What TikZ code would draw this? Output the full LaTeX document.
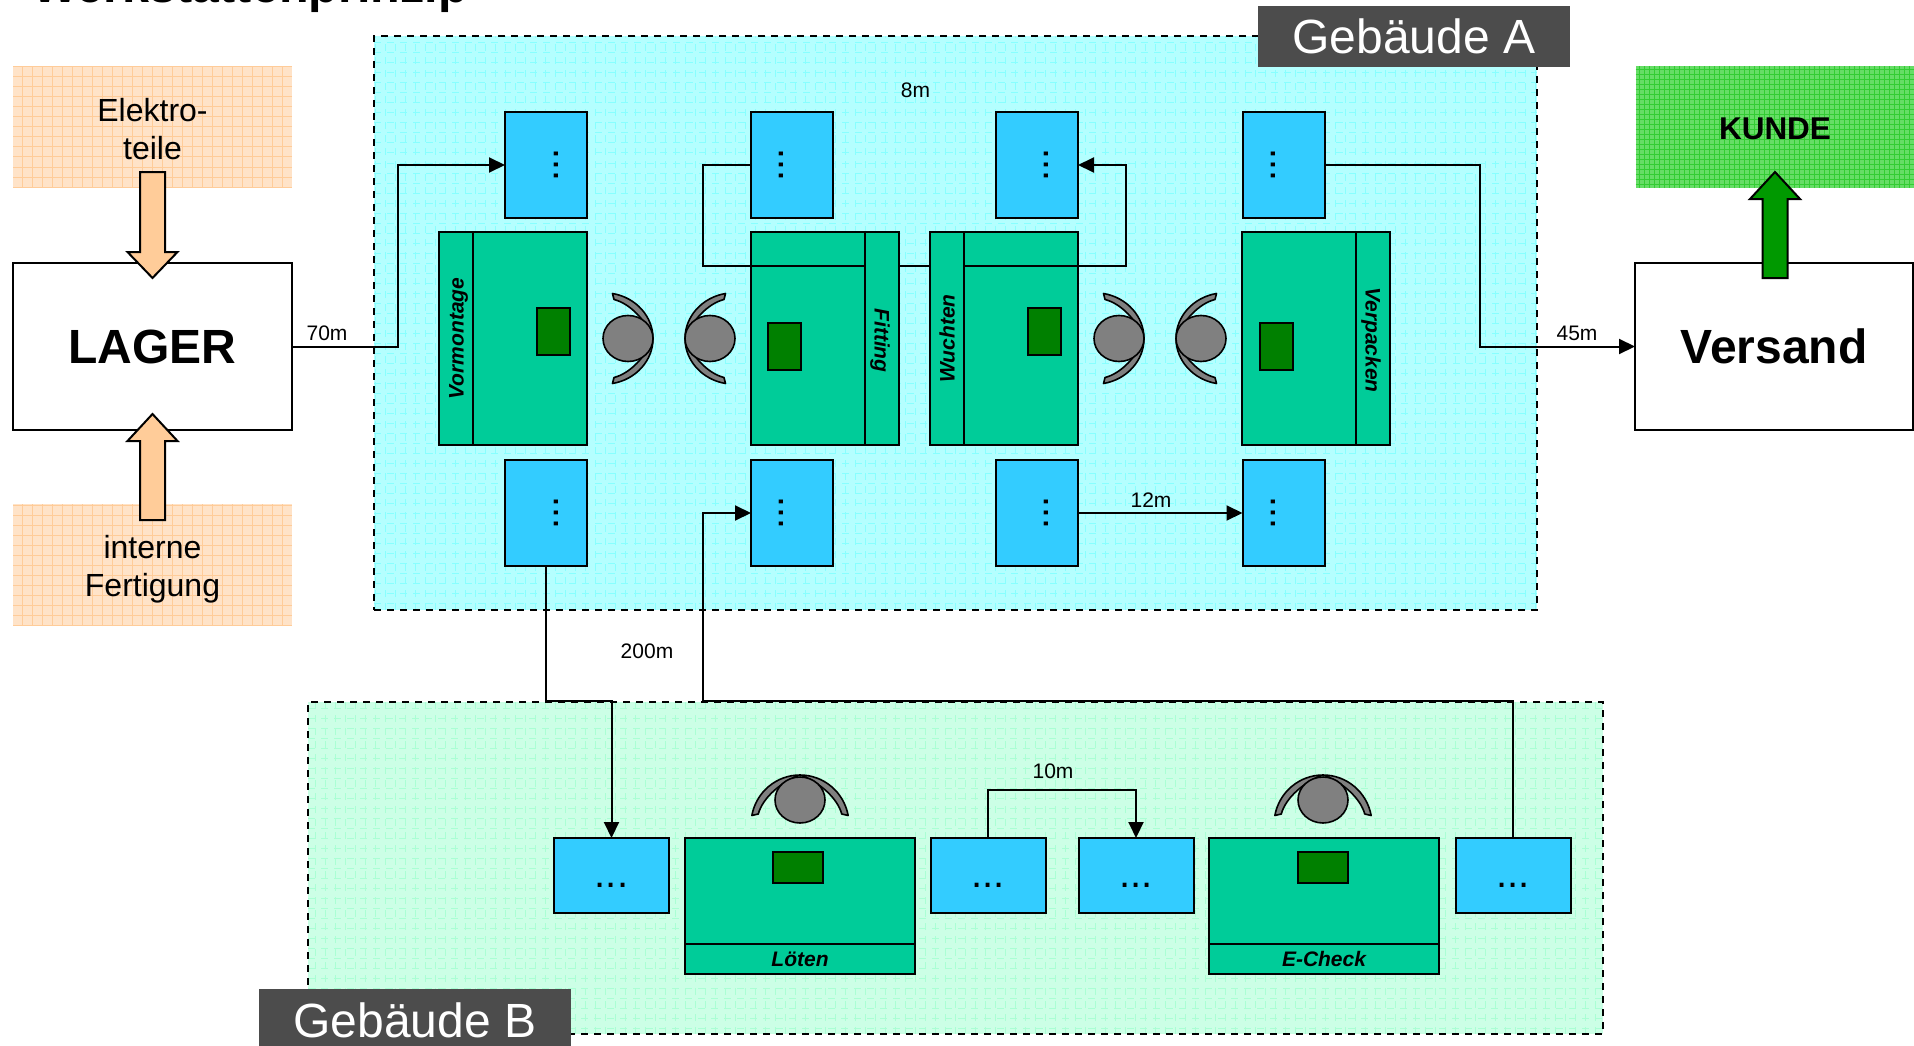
\documentclass[tikz,border=0pt]{standalone}
\usepackage{fontspec}
\setmainfont{Liberation Sans}
\usetikzlibrary{arrows.meta}

\definecolor{areaCyan}{HTML}{B4FFFF}
\definecolor{areaCyanLine}{HTML}{88FFFF}
\definecolor{areaMint}{HTML}{CCFFE6}
\definecolor{areaMintLine}{HTML}{AAFFD4}
\definecolor{stockFill}{HTML}{FFE3C8}
\definecolor{stockLine}{HTML}{FFCC99}
\definecolor{kundeFill}{HTML}{66DD66}
\definecolor{kundeLine}{HTML}{33CC33}
\definecolor{tableGreen}{HTML}{00CC99}
\definecolor{bufferBlue}{HTML}{33CCFF}

% One operator: arms turned by #3 and spread by #4, head upright
\newcommand{\operator}[4]{
    \begin{scope}[shift={(#1,#2)}, rotate=#3, yscale=#4]
        \draw[arms] (-15.5,-45) .. controls (8,-41) and (25,-22) .. (25,0)
            .. controls (25,22) and (8,41) .. (-15.5,45) -- (-14,39)
            .. controls (2,35) and (18,18) .. (25,0)
            .. controls (18,-18) and (2,-35) .. (-14,-39) -- cycle;
    \end{scope}
    \draw[head] (#1,#2) ellipse (25 and 23);
}

\begin{document}
\begin{tikzpicture}[
        x=1pt, y=-1pt, % Coordinates are reference pixels, y-axis reversed
        every node/.style={inner sep=0pt, outer sep=0pt},
        gridfill/.style n args={3}{fill=#1, path picture={
            \draw[#2, line width=1pt, step=#3]
                (path picture bounding box.south west) grid (path picture bounding box.north east);}},
        area/.style={draw, line width=2pt, dash pattern=on 7pt off 6pt},
        stock/.style={gridfill={stockFill}{stockLine}{10pt}},
        stocktext/.style={align=center, font=\fontsize{32}{38.5}\selectfont},
        hall/.style={draw, line width=2pt, fill=white, font=\bfseries\fontsize{48}{48}\selectfont},
        tag/.style={fill=black!70, text=white, font=\fontsize{48}{48}\selectfont},
        blockarrow/.style={draw, line width=2pt, line join=miter},
        desk/.style={draw, line width=2pt, fill=tableGreen},
        stripe/.style={desk, font=\bfseries\itshape\fontsize{21}{21}\selectfont},
        sidestripe/.style={stripe, text height=20pt, text depth=5pt, minimum width=213, minimum height=34},
        tool/.style={draw, line width=2pt, fill=green!50!black},
        buffer/.style={draw, line width=2pt, fill=bufferBlue},
        link/.style={line width=2pt, line join=miter},
        linkarrow/.style={link, -{Triangle[length=16pt, width=15pt]}},
        dist/.style={font=\fontsize{21}{21}\selectfont},
        arms/.style={draw, line width=1.6pt, fill=gray, line join=round},
        head/.style={draw, line width=1.6pt, fill=gray}
    ]
        \useasboundingbox (0,0) rectangle (1914,1046);

        % Title, cut by the top edge
        \node[anchor=base west, font=\bfseries\fontsize{48.5}{48.5}\selectfont] (title) at (32,3) {Werkstättenprinzip};

        % Buildings
        \node[area, gridfill={areaCyan}{areaCyanLine}{10pt}, minimum width=1163, minimum height=574] (gebA) at (955.5,323) {};
        \node[area, gridfill={areaMint}{areaMintLine}{10pt}, minimum width=1295, minimum height=332] (gebB) at (955.5,868) {};
        \node[tag, minimum width=312, minimum height=61] (tagA) at (1414,36.5) {Gebäude A};
        \node[tag, minimum width=312, minimum height=62] (tagB) at (415,1020) {Gebäude B};

        % Sources and customer
        \node[stock, minimum width=279, minimum height=122] (elektro) at (152.5,127) {};
        \node[stocktext] (elektroText) at (152.5,129) {Elektro-\\teile};
        \node[stock, minimum width=279, minimum height=122] (intern) at (152.5,565) {};
        \node[stocktext] (internText) at (152.5,569) {interne\\Fertigung};
        \node[gridfill={kundeFill}{kundeLine}{5pt}, minimum width=279, minimum height=122, text height=25pt, text depth=0pt,
            font=\bfseries\fontsize{31.5}{31.5}\selectfont] (kunde) at (1775,127) {KUNDE};
        \node[hall, minimum width=279, minimum height=167] (lager) at (152.5,346.5) {LAGER};
        \node[hall, minimum width=278, minimum height=167] (versand) at (1774,346.5) {Versand};

        % Block arrows
        \draw[blockarrow, fill=stockLine] (140,172) -- (165,172) -- (165,252) -- (177.5,252)
            -- (152.5,278) -- (127.5,252) -- (140,252) -- cycle;
        \draw[blockarrow, fill=stockLine] (140,520) -- (165,520) -- (165,441) -- (177.5,441)
            -- (152.5,414) -- (127.5,441) -- (140,441) -- cycle;
        \draw[blockarrow, fill=green!60!black] (1762.5,278) -- (1787.5,278) -- (1787.5,199) -- (1800,199)
            -- (1775,172) -- (1750,199) -- (1762.5,199) -- cycle;

        % Desks in building A
        \node[desk, minimum width=148, minimum height=213] (deskV) at (513,338.5) {};
        \node[desk, minimum width=148, minimum height=213] (deskF) at (825,338.5) {};
        \node[desk, minimum width=148, minimum height=213] (deskW) at (1004,338.5) {};
        \node[desk, minimum width=148, minimum height=213] (deskP) at (1316,338.5) {};

        % Buffers in building A
        \foreach \bname/\bx/\dotx in {topV/546/556, topF/792/781, topW/1037/1046, topP/1283.5/1273} {
            \node[buffer, minimum width=82, minimum height=106] (\bname) at (\bx,165) {};
            \node[rotate=90, font=\fontsize{40}{40}\selectfont] (\bname dots) at (\dotx,165) {...};
        }
        \foreach \bname/\bx/\dotx in {lowV/546/556, lowF/792/781, lowW/1037/1046, lowP/1283.5/1273} {
            \node[buffer, minimum width=82, minimum height=106] (\bname) at (\bx,513) {};
            \node[rotate=90, font=\fontsize{40}{40}\selectfont] (\bname dots) at (\dotx,513) {...};
        }

        % Connector that passes behind the stripes
        \coordinate (turnF) at (703,266);
        \coordinate (turnW) at (1125.5,266);
        \draw[linkarrow] (topF.west) -| (turnF) -- (turnW) |- (topW.east);

        % Stripes and tools
        \node[sidestripe, rotate=90] (stripV) at (456,338.5) {Vormontage};
        \node[sidestripe, rotate=270] (stripF) at (882,338.5) {\hspace*{4pt}Fitting};
        \node[sidestripe, rotate=90] (stripW) at (947,338.5) {Wuchten};
        \node[sidestripe, rotate=270] (stripP) at (1373,338.5) {\hspace*{3pt}Verpacken};
        \node[tool, minimum width=33, minimum height=47] (toolV) at (553,331.5) {};
        \node[tool, minimum width=33, minimum height=47] (toolF) at (784.5,346) {};
        \node[tool, minimum width=33, minimum height=47] (toolW) at (1044.5,331.5) {};
        \node[tool, minimum width=33, minimum height=47] (toolP) at (1276.5,346) {};

        % Operators in building A
        \operator{628}{338.5}{0}{1}
        \operator{710}{338.5}{180}{1}
        \operator{1119}{338.5}{0}{1}
        \operator{1201}{338.5}{180}{1}

        % Desks in building B
        \node[desk, minimum width=230, minimum height=136] (deskL) at (800,906) {};
        \node[desk, minimum width=230, minimum height=136] (deskE) at (1324,906) {};
        \node[stripe, minimum width=230, minimum height=30] (stripL) at (800,959) {Löten};
        \node[stripe, minimum width=230, minimum height=30] (stripE) at (1324,959) {E-Check};
        \node[tool, minimum width=50, minimum height=31] (toolL) at (798,867.5) {};
        \node[tool, minimum width=50, minimum height=31] (toolE) at (1323,867.5) {};
        \operator{800}{800}{90}{1.07}
        \operator{1323}{800}{90}{1.07}

        % Buffers in building B
        \foreach \bname/\bx in {bufA/611.5, bufB/988, bufC/1136, bufD/1513} {
            \node[buffer, minimum width=115, minimum height=75] (\bname) at (\bx,875.5) {};
            \node[font=\fontsize{40}{40}\selectfont] (\bname dots) at (\bx,885) {...};
        }

        % Connectors
        \coordinate (turnLager) at (398,165);
        \coordinate (turnVersand) at (1480,346.5);
        \coordinate (turnOut) at (611.5,701);
        \coordinate (turnIn) at (703,701);
        \coordinate (turnTen) at (1053,790);
        \draw[linkarrow] (lager.east) -| (turnLager) -- (topV.west);
        \draw[linkarrow] (topP.east) -| (turnVersand) -- (versand.west);
        \draw[linkarrow] (lowV.south) |- (turnOut) -- (bufA.north);
        \draw[linkarrow] (bufD.north) |- (turnIn) |- (lowF.west);
        \draw[linkarrow] (lowW.east) -- (lowP.west);
        \draw[linkarrow] (bufB.north) |- (turnTen) -| (bufC.north);

        % Distances
        \node[dist] (d70) at (327,333) {70m};
        \node[dist] (d8) at (915.5,90) {8m};
        \node[dist] (d45) at (1577,333) {45m};
        \node[dist] (d12) at (1151,500) {12m};
        \node[dist] (d200) at (647,651) {200m};
        \node[dist] (d10) at (1053,771) {10m};

    \end{tikzpicture}
\end{document}
